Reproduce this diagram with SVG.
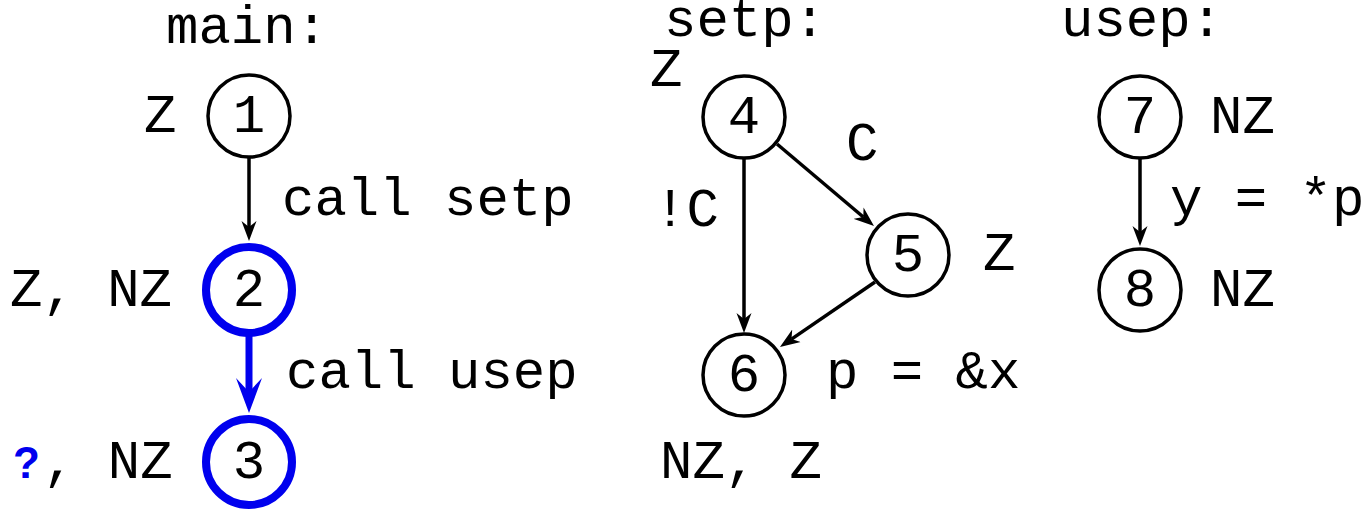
<svg xmlns="http://www.w3.org/2000/svg" width="1369" height="509" viewBox="0 0 1369 509">
  <style>
    .t { font-family: "Liberation Mono", "DejaVu Sans Mono", monospace; font-size: 54px; fill: #000; }
    .n { font-family: "Liberation Mono", "DejaVu Sans Mono", monospace; font-size: 54px; fill: #000; text-anchor: middle; }
    .node { fill: #fff; stroke: #000; stroke-width: 3.5; }
    .hot { fill: #fff; stroke: #0000ee; stroke-width: 8; }
    .edge { fill: none; stroke: #000; stroke-width: 3.5; }
    .hedge { fill: none; stroke: #0000ee; stroke-width: 7; }
  </style>
  <defs>
    <!-- notched arrowheads; the line stops at the notch, the tip reaches 14px further -->
    <marker id="ah" viewBox="0 0 20 16" refX="6" refY="8" markerWidth="20" markerHeight="16" markerUnits="userSpaceOnUse" orient="auto">
      <path d="M0,0.5 L20,8 L0,15.5 L6,8 Z" fill="#000"/>
    </marker>
    <marker id="ahb" viewBox="0 0 36 28" refX="14" refY="14" markerWidth="36" markerHeight="28" markerUnits="userSpaceOnUse" orient="auto">
      <path d="M0,1 L35,14 L0,27 L14,14 Z" fill="#0000ee"/>
    </marker>
  </defs>

  <!-- procedure titles -->
  <text class="t" x="166" y="43">main:</text>
  <text class="t" x="664" y="36">setp:</text>
  <text class="t" x="1061" y="36">usep:</text>

  <!-- connectors -->
  <g id="edges">
    <line class="edge" x1="249" y1="158" x2="249" y2="227" marker-end="url(#ah)"/>
    <line class="hedge" x1="249" y1="336" x2="249" y2="392" marker-end="url(#ahb)"/>
    <line class="edge" x1="744" y1="158" x2="744" y2="319" marker-end="url(#ah)"/>
    <line class="edge" x1="777" y1="144" x2="863.3" y2="217" marker-end="url(#ah)"/>
    <line class="edge" x1="875" y1="282" x2="791.5" y2="339.1" marker-end="url(#ah)"/>
    <line class="edge" x1="1140" y1="158" x2="1140" y2="232" marker-end="url(#ah)"/>
    <text class="t" x="282" y="215">call setp</text>
    <text class="t" x="286" y="388">call usep</text>
    <text class="t" x="846" y="160">C</text>
    <text class="t" x="654" y="226">!C</text>
    <text class="t" x="826" y="388">p = &amp;x</text>
    <text class="t" x="1170" y="215">y = *p</text>
  </g>

  <!-- main -->
  <g id="node1">
    <circle class="node" cx="249" cy="116" r="41"/>
    <text class="n" x="249" y="132">1</text>
    <text class="t" x="144" y="132">Z</text>
  </g>
  <g id="node2">
    <circle class="hot" cx="249" cy="290" r="43"/>
    <text class="n" x="249" y="306">2</text>
    <text class="t" x="10" y="306">Z, NZ</text>
  </g>
  <g id="node3">
    <circle class="hot" cx="249" cy="462" r="43"/>
    <text class="n" x="249" y="478">3</text>
    <text x="13" y="478" font-family="Liberation Sans, Arial, sans-serif" font-weight="bold" font-size="44" fill="#0000ee">?</text>
    <text class="t" x="43" y="478">, NZ</text>
  </g>

  <!-- setp -->
  <g id="node4">
    <circle class="node" cx="744" cy="117" r="41"/>
    <text class="n" x="744" y="133">4</text>
    <text class="t" x="650" y="86">Z</text>
  </g>
  <g id="node5">
    <circle class="node" cx="908" cy="255" r="41"/>
    <text class="n" x="908" y="271">5</text>
    <text class="t" x="983" y="270">Z</text>
  </g>
  <g id="node6">
    <circle class="node" cx="744" cy="375" r="41"/>
    <text class="n" x="744" y="391">6</text>
    <text class="t" x="660" y="478">NZ, Z</text>
  </g>

  <!-- usep -->
  <g id="node7">
    <circle class="node" cx="1140" cy="117" r="41"/>
    <text class="n" x="1140" y="133">7</text>
    <text class="t" x="1210" y="133">NZ</text>
  </g>
  <g id="node8">
    <circle class="node" cx="1140" cy="290" r="41"/>
    <text class="n" x="1140" y="306">8</text>
    <text class="t" x="1210" y="306">NZ</text>
  </g>
</svg>
